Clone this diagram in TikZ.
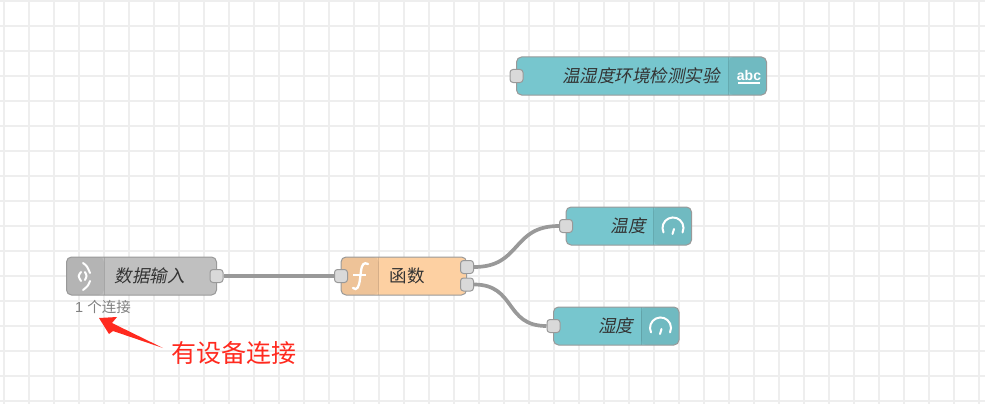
\documentclass[tikz,border=0pt]{standalone}
\usepackage{fontspec}
\setmainfont{Liberation Sans}
\newfontfamily\cjkfont{Noto Sans CJK SC}
\newfontfamily\cjkslant[FakeSlant=0.2]{Noto Sans CJK SC}
\definecolor{gridline}{HTML}{EEEEEE}
\definecolor{tealnode}{HTML}{77C6CE}
\definecolor{peach}{HTML}{FDD0A2}
\definecolor{stone}{HTML}{C0C0C0}
\definecolor{wiregray}{HTML}{999999}
\definecolor{portgray}{HTML}{D9D9D9}
\definecolor{redmark}{HTML}{FF2A1F}
\tikzset{
  iconleft/.style={path picture={
    \fill[black,opacity=.06] (path picture bounding box.north west) rectangle ++(37.5,38);
    \draw[black,opacity=.12,line width=.8pt] ([xshift=37.5]path picture bounding box.north west) -- ([xshift=37.5]path picture bounding box.south west);}},
  iconright/.style={path picture={
    \fill[black,opacity=.06] (path picture bounding box.north east) rectangle ++(-38,38);
    \draw[black,opacity=.12,line width=.8pt] ([xshift=-38]path picture bounding box.north east) -- ([xshift=-38]path picture bounding box.south east);}}
}

\begin{document}
\begin{tikzpicture}[x=1pt,y=-1pt,font=\cjkfont]
  \tikzstyle{flow}=[draw=wiregray,line width=1pt,rounded corners=5pt,minimum height=38pt,inner sep=0pt,outer sep=0pt,anchor=west]
  \tikzstyle{port}=[draw=wiregray,fill=portgray,line width=1pt,rounded corners=3pt,minimum size=13pt,inner sep=0pt]
  \tikzstyle{wire}=[draw=wiregray,line width=3.7pt]
  \tikzstyle{flowtext}=[font=\fontsize{17.5}{18}\cjkslant,text=black!80,inner sep=0pt]
  \tikzstyle{iconline}=[white,line width=2pt,line cap=round]

  \useasboundingbox (0,0) rectangle (985,404);
  % grid
  \foreach \x in {4,29,...,979} \draw[gridline,line width=2pt] (\x,0) -- (\x,404);
  \foreach \y in {1,26,...,401} \draw[gridline,line width=2pt] (0,\y) -- (985,\y);

  % nodes
  \node[flow,fill=tealnode,iconright,minimum width=250pt] (title) at (516.5,76) {};
  \node[flow,fill=stone,iconleft,minimum width=150pt] (input) at (66.5,276) {};
  \node[flow,fill=peach,iconleft,minimum width=125.5pt] (func) at (341,276) {};
  \node[flow,fill=tealnode,iconright,minimum width=125.5pt] (temp) at (566,226) {};
  \node[flow,fill=tealnode,iconright,minimum width=125.5pt] (humi) at (553.5,326) {};

  % labels
  \node[flowtext,anchor=east] (titletext) at (720,76) {温湿度环境检测实验};
  \node[flowtext] (inputtext) at (149.5,276) {数据输入};
  \node[font=\fontsize{17.5}{18}\cjkfont,text=black!80,inner sep=0pt] (functext) at (407,276) {函数};
  \node[flowtext,anchor=east] (temptext) at (646,226) {温度};
  \node[flowtext,anchor=east] (humitext) at (633.5,326) {湿度};
  \node[font=\fontsize{14.5}{14.5}\selectfont,text=black!50,inner sep=0pt,anchor=west] (status) at (75,306.5) {\rmfamily 1 {\cjkfont 个连接}};
  \node[font=\fontsize{25}{25}\cjkfont,text=redmark,inner sep=0pt,anchor=west] (note) at (171,352.5) {有设备连接};

  % ports
  \node[port] (inputout) at (216.5,276) {};
  \node[port] (funcin) at (341,276) {};
  \node[port] (funcouta) at (467,267) {};
  \node[port] (funcoutb) at (467,284.5) {};
  \node[port] (tempin) at (566,226) {};
  \node[port] (humiin) at (553.5,326) {};
  \node[port] (titlein) at (516.5,76) {};

  % wires
  \path[wire] (inputout) edge (funcin);
  \path[wire] (funcouta) edge[out=0,in=180,looseness=1.3] (tempin)
              (funcoutb) edge[out=0,in=180,looseness=1.3] (humiin);

  % icons
  \draw[white,line width=2.3pt,line cap=round] (353,288) .. controls (357,291) and (359,287) .. (360,279)
    -- (361,271) .. controls (362,264) and (364,262) .. (368,264);
  \draw[white,line width=1.7pt] (353,275) -- (366,275);
  \node[font=\bfseries\fontsize{14}{14}\selectfont,text=white,inner sep=0pt] (abcicon) at (749,75.5) {abc};
  \draw[white,line width=2pt] (738,83) -- (760,83);
  \foreach \cx/\cy in {673/228,660.5/328} {
    \draw[iconline] (\cx-9.5,\cy+4.4) arc[start angle=155,end angle=385,radius=10.5];
    \draw[iconline] (\cx-.5,\cy+6) -- ++(1.5,-5);
  }
  \draw[iconline] (83,263) .. controls (87,266) .. (90,273);
  \draw[iconline] (90,281) .. controls (88,286) .. (83,290);
  \draw[iconline] (85,272) .. controls (87,276) .. (85,280);
  \draw[iconline] (81,272) .. controls (78,276) .. (81,281);

  % arrow
  \fill[redmark] (99,318) -- (117,317) -- (112,323) -- (163,348) -- (113,331) -- (109,334) -- cycle;
\end{tikzpicture}
\end{document}
